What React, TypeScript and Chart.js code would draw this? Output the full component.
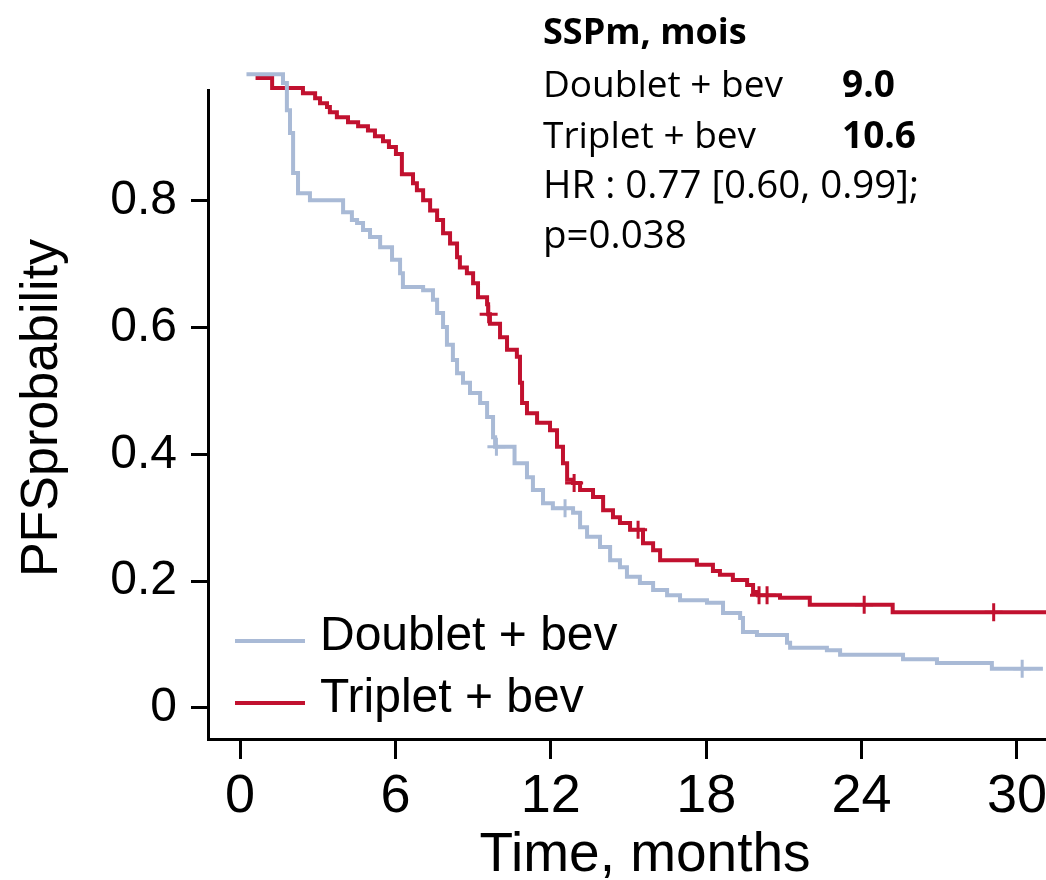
import React, { useEffect, useRef } from 'react';
import { Chart, registerables } from 'chart.js';

Chart.register(...registerables);

// ---- Data ----
const seriesNames = ['Doublet + bev', 'Triplet + bev'];
const seriesColors = ['#a9bad6', '#c1112f'];

const doubletTimes = [0.25, 1.66, 1.81, 1.93, 2.05, 2.24, 2.70, 3.98, 4.32, 4.52, 4.75, 5.02, 5.41, 5.87, 6.18, 6.29, 7.07, 7.45, 7.61, 7.84, 7.99, 8.22, 8.38, 8.61, 8.88, 9.27, 9.54, 9.77, 9.85, 10.6, 11.08, 11.31, 11.70, 12.08, 12.86, 13.13, 13.40, 13.90, 14.29, 14.67, 14.94, 15.44, 15.95, 16.49, 16.99, 18.03, 18.65, 19.31, 19.42, 19.96, 21.12, 21.24, 22.66, 23.17, 25.60, 26.91, 29.03, 31.0];
const doubletSurv = [1.0, 0.986, 0.943, 0.907, 0.844, 0.812, 0.801, 0.782, 0.770, 0.765, 0.754, 0.743, 0.727, 0.707, 0.686, 0.664, 0.659, 0.644, 0.623, 0.601, 0.573, 0.549, 0.528, 0.513, 0.497, 0.481, 0.459, 0.427, 0.412, 0.386, 0.364, 0.344, 0.323, 0.315, 0.308, 0.285, 0.270, 0.254, 0.233, 0.222, 0.207, 0.197, 0.186, 0.178, 0.170, 0.166, 0.150, 0.142, 0.120, 0.115, 0.103, 0.095, 0.091, 0.084, 0.077, 0.071, 0.062, 0.062];
const doubletCensorTimes = [9.9, 12.55, 30.2];
const doubletCensorSurv = [0.412, 0.315, 0.062];

const tripletTimes = [0.6, 1.24, 2.43, 2.90, 3.09, 3.36, 3.47, 3.74, 4.17, 4.56, 4.94, 5.21, 5.52, 5.75, 6.02, 6.25, 6.68, 6.83, 7.07, 7.34, 7.61, 7.84, 8.11, 8.38, 8.49, 8.76, 9.00, 9.19, 9.54, 9.58, 9.65, 10.04, 10.31, 10.69, 10.81, 10.89, 11.08, 11.47, 11.97, 12.24, 12.47, 12.63, 12.86, 13.13, 13.63, 14.02, 14.40, 14.67, 15.06, 15.56, 15.95, 16.22, 17.64, 18.26, 18.53, 19.03, 19.58, 19.81, 20.00, 20.85, 22.00, 25.20, 31.2];
const tripletSurv = [0.994, 0.978, 0.970, 0.962, 0.954, 0.948, 0.940, 0.932, 0.924, 0.918, 0.911, 0.902, 0.894, 0.885, 0.874, 0.842, 0.828, 0.817, 0.801, 0.785, 0.770, 0.749, 0.733, 0.711, 0.695, 0.686, 0.670, 0.648, 0.637, 0.621, 0.606, 0.585, 0.565, 0.554, 0.513, 0.481, 0.465, 0.450, 0.438, 0.412, 0.386, 0.360, 0.355, 0.344, 0.333, 0.312, 0.301, 0.292, 0.281, 0.260, 0.249, 0.233, 0.226, 0.216, 0.210, 0.202, 0.194, 0.183, 0.178, 0.174, 0.163, 0.151, 0.151];
const tripletCensorTimes = [9.6, 12.9, 15.37, 20.04, 20.35, 24.1, 29.1];
const tripletCensorSurv = [0.621, 0.355, 0.281, 0.178, 0.178, 0.163, 0.151];

const xTicks = [0, 6, 12, 18, 24, 30];
const yTicks = [0, 0.2, 0.4, 0.6, 0.8];
const yTickLabels = ['0', '0.2', '0.4', '0.6', '0.8'];
const xTitle = 'Time, months';
const yTitle = 'PFSprobability';
const statsTitle = 'SSPm, mois';
const statsLabels = ['Doublet + bev', 'Triplet + bev'];
const statsValues = ['9.0', '10.6'];
const statsNotes = ['HR : 0.77 [0.60, 0.99];', 'p=0.038'];

const AX_FONT = '"Liberation Sans", Arial, sans-serif';
const TXT_FONT = '"Open Sans", "Noto Sans", sans-serif';

function pts(ts: number[], ys: number[]) {
  return ts.map((t, i) => ({ x: t, y: ys[i] }));
}

const textPlugin = {
  id: 'kmText',
  afterDraw(chart: any) {
    const ctx = chart.ctx;
    ctx.save();
    ctx.fillStyle = '#000';
    // stats block
    ctx.textAlign = 'left';
    ctx.textBaseline = 'alphabetic';
    ctx.font = `bold 36px ${TXT_FONT}`;
    ctx.fillText(statsTitle, 543, 44);
    statsLabels.forEach((l, i) => {
      ctx.font = `37px ${TXT_FONT}`;
      ctx.fillText(l, 543, 97 + i * 51);
      ctx.font = `bold 37px ${TXT_FONT}`;
      ctx.fillText(statsValues[i], 842, 97 + i * 51);
    });
    ctx.font = `38.5px ${TXT_FONT}`;
    statsNotes.forEach((n, i) => ctx.fillText(n, 543, 198 + i * 50));

    // legend
    ctx.textBaseline = 'middle';
    ctx.font = `48px ${AX_FONT}`;
    seriesNames.forEach((name, i) => {
      const y = 641 + i * 62;
      ctx.strokeStyle = seriesColors[i];
      ctx.lineWidth = 4;
      ctx.beginPath();
      ctx.moveTo(235, y);
      ctx.lineTo(305, y);
      ctx.stroke();
      ctx.fillText(name, 320, y - 4);
    });

    // axis titles
    ctx.textAlign = 'center';
    ctx.font = `55px ${AX_FONT}`;
    ctx.fillText(xTitle, 645, 856);
    ctx.translate(43, 408);
    ctx.rotate(-Math.PI / 2);
    ctx.font = `52px ${AX_FONT}`;
    ctx.fillText(yTitle, 0, 0);
    ctx.restore();
  },
};

export default function App() {
  const ref = useRef<HTMLCanvasElement | null>(null);
  useEffect(() => {
    if (!ref.current) return;
    const chart = new Chart(ref.current, {
      type: 'line',
      data: {
        datasets: [
          {
            label: seriesNames[0],
            data: pts(doubletTimes, doubletSurv),
            borderColor: seriesColors[0],
            borderWidth: 4,
            stepped: 'before',
            pointRadius: 0,
            fill: false,
            clip: false,
          },
          {
            label: seriesNames[1],
            data: pts(tripletTimes, tripletSurv),
            borderColor: seriesColors[1],
            borderWidth: 4,
            stepped: 'before',
            pointRadius: 0,
            fill: false,
            clip: false,
          },
          {
            label: 'censor-d',
            data: pts(doubletCensorTimes, doubletCensorSurv),
            showLine: false,
            pointStyle: 'cross',
            pointRadius: 9,
            pointBorderWidth: 3,
            pointBorderColor: seriesColors[0],
            borderColor: seriesColors[0],
            clip: false,
          },
          {
            label: 'censor-t',
            data: pts(tripletCensorTimes, tripletCensorSurv),
            showLine: false,
            pointStyle: 'cross',
            pointRadius: 9,
            pointBorderWidth: 3,
            pointBorderColor: seriesColors[1],
            borderColor: seriesColors[1],
            clip: false,
          },
        ] as any,
      },
      options: {
        animation: false,
        responsive: false,
        devicePixelRatio: 1,
        layout: { autoPadding: false, padding: { top: 90, right: 0, left: 0, bottom: 0 } },
        plugins: { legend: { display: false }, tooltip: { enabled: false }, title: { display: false } },
        scales: {
          x: {
            type: 'linear',
            min: -1.236,
            max: 31.12,
            afterBuildTicks: (s: any) => { s.ticks = xTicks.map((v) => ({ value: v })); },
            afterFit: (s: any) => { s.height = 141; s.paddingLeft = 0; s.paddingRight = 0; },
            ticks: {
              color: '#000',
              font: { family: AX_FONT, size: 54 },
              padding: 6,
              maxRotation: 0,
              autoSkip: false,
              callback: (v: any) => String(v),
            },
            grid: { drawOnChartArea: false, drawTicks: true, tickLength: 20, tickWidth: 3, tickColor: '#000' },
            border: { display: true, color: '#000', width: 3 },
          },
          y: {
            type: 'linear',
            min: -0.049,
            max: 0.975,
            afterBuildTicks: (s: any) => { s.ticks = yTicks.map((v) => ({ value: v })); },
            afterFit: (s: any) => { s.width = 208; s.paddingTop = 0; s.paddingBottom = 0; },
            ticks: {
              color: '#000',
              font: { family: AX_FONT, size: 48 },
              padding: 14,
              autoSkip: false,
              callback: (v: any) => yTickLabels[yTicks.indexOf(v)] ?? String(v),
            },
            grid: { drawOnChartArea: false, drawTicks: true, tickLength: 17, tickWidth: 3, tickColor: '#000' },
            border: { display: true, color: '#000', width: 3 },
          },
        },
      } as any,
      plugins: [textPlugin],
    });
    return () => chart.destroy();
  }, []);
  return (
    <div style={{ position: 'absolute', left: 0, top: 0, width: 1046, height: 880, background: '#fff' }}>
      <canvas ref={ref} width={1046} height={880} style={{ display: 'block', width: 1046, height: 880 }} />
    </div>
  );
}
